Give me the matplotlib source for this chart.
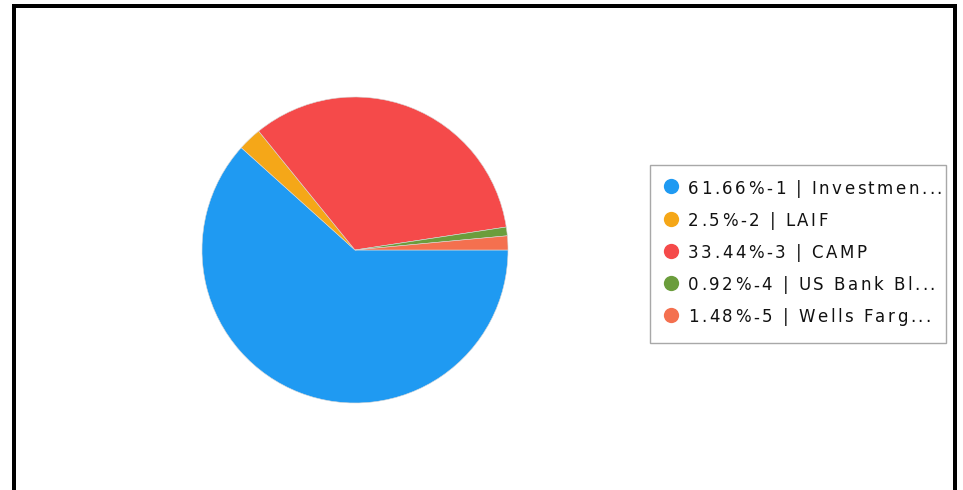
import matplotlib
matplotlib.use("Agg")
import matplotlib.pyplot as plt
from matplotlib.lines import Line2D
from matplotlib.patches import Rectangle
from matplotlib.font_manager import FontProperties, findfont
from matplotlib.ft2font import FT2Font

plt.rcParams["font.family"] = ["DejaVu Sans"]

# Portfolio composition
shares = [61.66, 2.5, 33.44, 0.92, 1.48]
ids = ["1", "2", "3", "4", "5"]
names = ["Investmen...", "LAIF", "CAMP", "US Bank Bl...", "Wells Farg..."]
colors = ["#1f9af2", "#f5a718", "#f54a4a", "#6b9d3c", "#f4704f"]

W, H = 963, 490
DPI = 100
fig = plt.figure(figsize=(W / DPI, H / DPI), dpi=DPI)
fig.patch.set_facecolor("white")

def fx(px):
    return px / W

def fy(py):
    return 1 - py / H

# Pie
cx, cy, r = 355, 250, 153
half = 170
ax = fig.add_axes([fx(cx - half), fy(cy + half), 2 * half / W, 2 * half / H])
ax.pie(shares, colors=colors, startangle=0, counterclock=False, radius=1,
       wedgeprops=dict(edgecolor="#d8d8d8", linewidth=0.4))
lim = half / r
ax.set_xlim(-lim, lim)
ax.set_ylim(-lim, lim)
ax.set_aspect("equal")
ax.axis("off")

# Legend text: drawn glyph by glyph with extra tracking
FS = 12
font = FT2Font(findfont(FontProperties(family="DejaVu Sans")))
font.set_size(FS, DPI)

def advances(s):
    return [font.load_char(ord(ch)).linearHoriAdvance / 65536 for ch in s]

labels = [f"{s:g}%-{k} | {n}" for s, k, n in zip(shares, ids, names)]
tx0, tx1 = 688, 942
natural = sum(advances(labels[0]))
track = (tx1 - tx0 - natural) / (len(labels[0]) - 1)

# Legend box
lx0, ly0, lx1, ly1 = 650, 165, 946, 343
fig.patches.append(Rectangle((fx(lx0), fy(ly1)), fx(lx1 - lx0), (ly1 - ly0) / H,
                             transform=fig.transFigure, facecolor="white",
                             edgecolor="#a8a8a8", linewidth=1.0))
row0, step = 186.5, 32.25
for i, (label, c) in enumerate(zip(labels, colors)):
    y = row0 + i * step
    fig.add_artist(Line2D([fx(671)], [fy(y)], marker="o", markersize=11,
                          color=c, markeredgewidth=0, transform=fig.transFigure))
    x = tx0
    for ch, adv in zip(label, advances(label)):
        if ch != " ":
            fig.text(fx(x), fy(y), ch, fontsize=FS, color="#111111",
                     va="center_baseline", ha="left")
        x += adv + track

# Frame
lw = 4 * 0.72
fig.add_artist(Line2D([fx(14), fx(14), fx(954.5), fx(954.5)],
                      [0, fy(6.5), fy(6.5), 0], color="black", linewidth=lw,
                      solid_joinstyle="miter", transform=fig.transFigure))

fig.savefig("out.png", dpi=DPI, facecolor="white")
